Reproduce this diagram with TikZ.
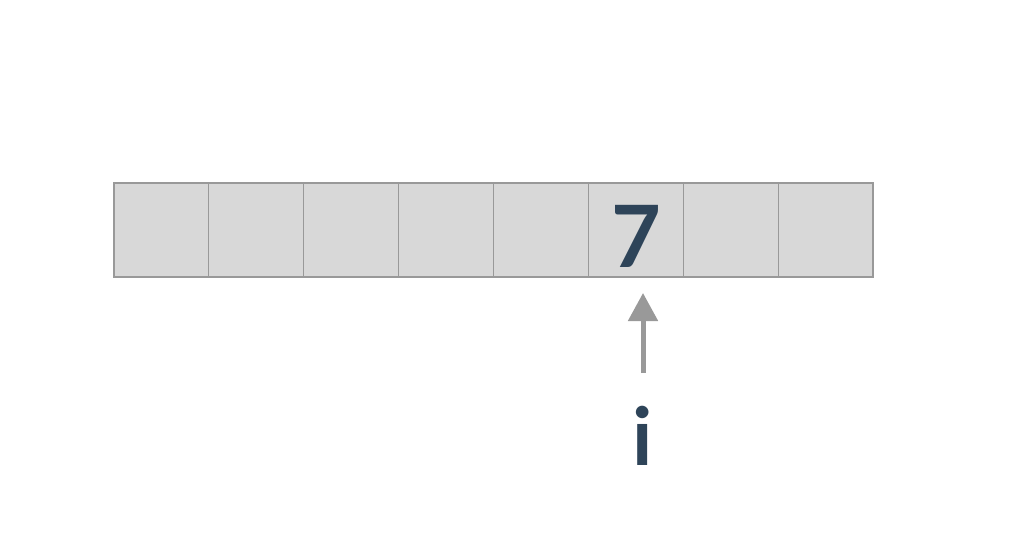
\documentclass[tikz,border=0pt]{standalone}
\usepackage{fontspec}
\setmainfont{Lato}
\usetikzlibrary{arrows.meta}
\definecolor{cellfill}{HTML}{D8D8D8}
\definecolor{cellline}{HTML}{999999}
\definecolor{ink}{HTML}{2E4459}
\begin{document}
\begin{tikzpicture}[x=1pt,y=-1pt,
  cell/.style={draw=cellline,fill=cellfill,line width=1.2pt,minimum width=94.875pt,minimum height=94pt,inner sep=0pt,outer sep=0pt},
  bigtext/.style={text=ink,font=\fontsize{86}{86}\selectfont\bfseries,inner sep=0pt},
  pointer/.style={draw=cellline,line width=5pt,-{Triangle[width=29pt,length=28pt]}}]
\useasboundingbox (0,0) rectangle (1027,556);
\foreach \k in {0,...,7}{
  \node[cell] (c\k) at ({114+94.875*(\k+0.5)},230) {};
}
\node[bigtext,anchor=base] (seven) at (636,267) {7};
\coordinate (tail) at (643,373);
\coordinate (tip) at (643,293);
\draw[pointer] (tail) -- (tip);
\node[bigtext,font=\fontsize{80}{80}\selectfont\bfseries,anchor=base] (ilabel) at (643,465) {i};
\end{tikzpicture}
\end{document}
